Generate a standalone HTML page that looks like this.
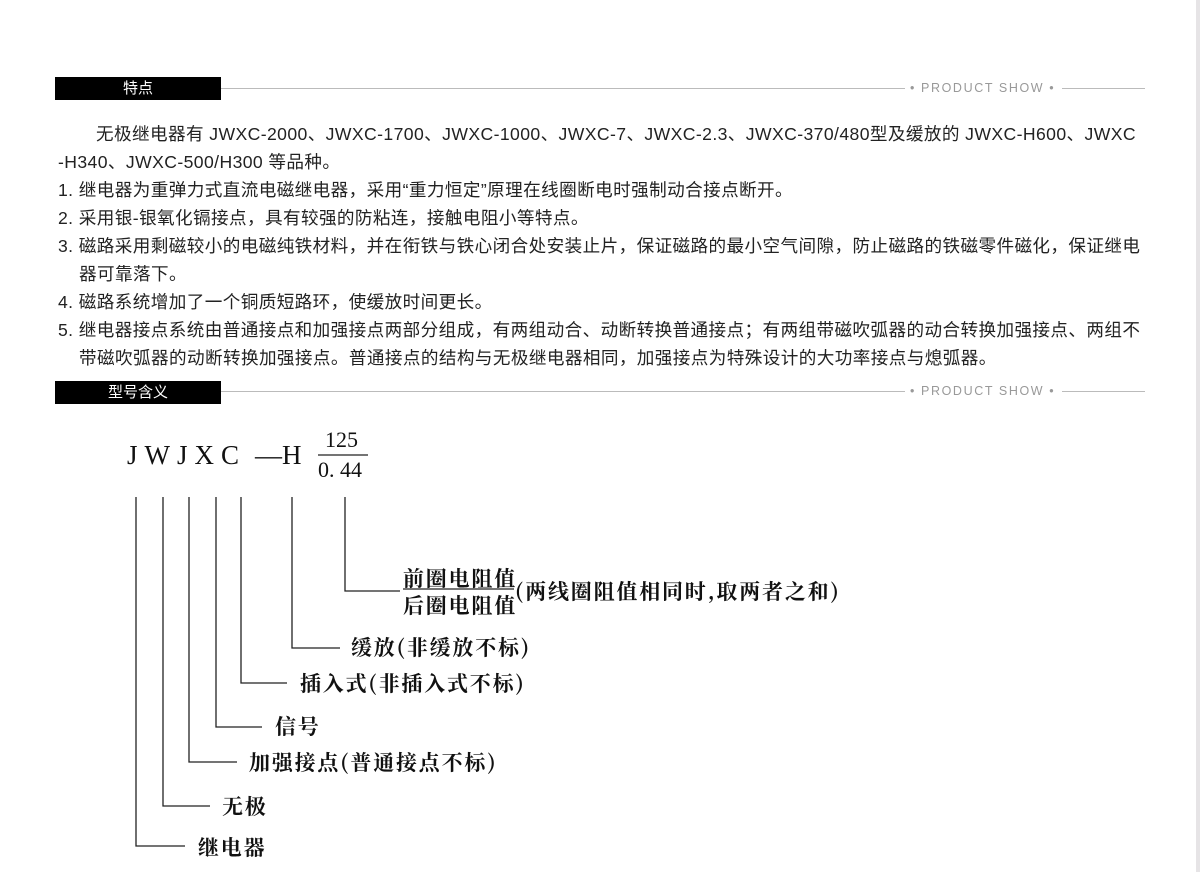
<!DOCTYPE html>
<html><head><meta charset="utf-8"><style>
*{margin:0;padding:0}
body{width:1200px;height:872px;background:#fff;position:relative;overflow:hidden;font-family:"Liberation Sans","Noto Sans CJK SC",sans-serif;color:#222}
.hbar{position:absolute;left:55px;width:166px;height:23px;background:#000;color:#fff;font-size:15px;line-height:23px;text-align:center}
.hl{position:absolute;height:1px;background:#bbb}
.ps{position:absolute;left:910px;width:150px;font-size:12.5px;letter-spacing:1.6px;color:#999;white-space:nowrap}
.t{position:absolute;font-size:17.6px;letter-spacing:0.4px;line-height:28px;white-space:nowrap;color:#222}
.d{position:absolute;font-family:"Noto Serif CJK SC","Liberation Serif",serif;font-weight:bold;font-size:21px;letter-spacing:1.8px;white-space:nowrap;color:#111}
.edge{position:absolute;right:0;top:0;width:4px;height:872px;background:#e6e4e6}
</style></head><body>
<div class="edge"></div>
<div class="hbar" style="top:77px">特点</div>
<div class="hl" style="top:88px;left:221px;width:684px"></div>
<div class="ps" style="top:81px">• PRODUCT SHOW •</div>
<div class="hl" style="top:88px;left:1062px;width:83px"></div>

<div class="t" style="left:96px;top:120px">无极继电器有 JWXC-2000、JWXC-1700、JWXC-1000、JWXC-7、JWXC-2.3、JWXC-370/480型及缓放的 JWXC-H600、JWXC</div>
<div class="t" style="left:58px;top:148px">-H340、JWXC-500/H300 等品种。</div>
<div class="t" style="left:58px;top:176px">1. 继电器为重弹力式直流电磁继电器，采用“重力恒定”原理在线圈断电时强制动合接点断开。</div>
<div class="t" style="left:58px;top:204px">2. 采用银-银氧化镉接点，具有较强的防粘连，接触电阻小等特点。</div>
<div class="t" style="left:58px;top:232px">3. 磁路采用剩磁较小的电磁纯铁材料，并在衔铁与铁心闭合处安装止片，保证磁路的最小空气间隙，防止磁路的铁磁零件磁化，保证继电</div>
<div class="t" style="left:79px;top:260px">器可靠落下。</div>
<div class="t" style="left:58px;top:288px">4. 磁路系统增加了一个铜质短路环，使缓放时间更长。</div>
<div class="t" style="left:58px;top:316px">5. 继电器接点系统由普通接点和加强接点两部分组成，有两组动合、动断转换普通接点；有两组带磁吹弧器的动合转换加强接点、两组不</div>
<div class="t" style="left:79px;top:344px">带磁吹弧器的动断转换加强接点。普通接点的结构与无极继电器相同，加强接点为特殊设计的大功率接点与熄弧器。</div>

<div class="hbar" style="top:381px">型号含义</div>
<div class="hl" style="top:391px;left:221px;width:684px"></div>
<div class="ps" style="top:384px">• PRODUCT SHOW •</div>
<div class="hl" style="top:391px;left:1062px;width:83px"></div>

<svg style="position:absolute;left:0;top:0" width="1200" height="872">
<g font-family="Liberation Serif,serif" fill="#111">
<text x="127" y="464" font-size="27" letter-spacing="7">JWJXC</text>
<text x="255" y="464" font-size="27">—H</text>
<text x="325" y="447" font-size="22">125</text>
<text x="318" y="477" font-size="22">0. 44</text>
</g>
<line x1="318" y1="455" x2="368" y2="455" stroke="#222" stroke-width="1.2"/>
<g stroke="#222" stroke-width="1.3" fill="none">
<polyline points="345,497 345,591 400,591"/>
<polyline points="292,497 292,648 340,648"/>
<polyline points="241,497 241,683 287,683"/>
<polyline points="216,497 216,727 262,727"/>
<polyline points="189,497 189,762 237,762"/>
<polyline points="163,497 163,806 210,806"/>
<polyline points="136,497 136,846 185,846"/>
<line x1="403" y1="589" x2="514" y2="589"/>
</g>
</svg>
<div class="d" style="left:403px;top:563px">前圈电阻值</div>
<div class="d" style="left:403px;top:590px">后圈电阻值</div>
<div class="d" style="left:515px;top:576px">(两线圈阻值相同时,取两者之和)</div>
<div class="d" style="left:351px;top:632px">缓放(非缓放不标)</div>
<div class="d" style="left:300px;top:668px">插入式(非插入式不标)</div>
<div class="d" style="left:275px;top:711px">信号</div>
<div class="d" style="left:249px;top:747px">加强接点(普通接点不标)</div>
<div class="d" style="left:222px;top:791px">无极</div>
<div class="d" style="left:198px;top:832px">继电器</div>
</body></html>
